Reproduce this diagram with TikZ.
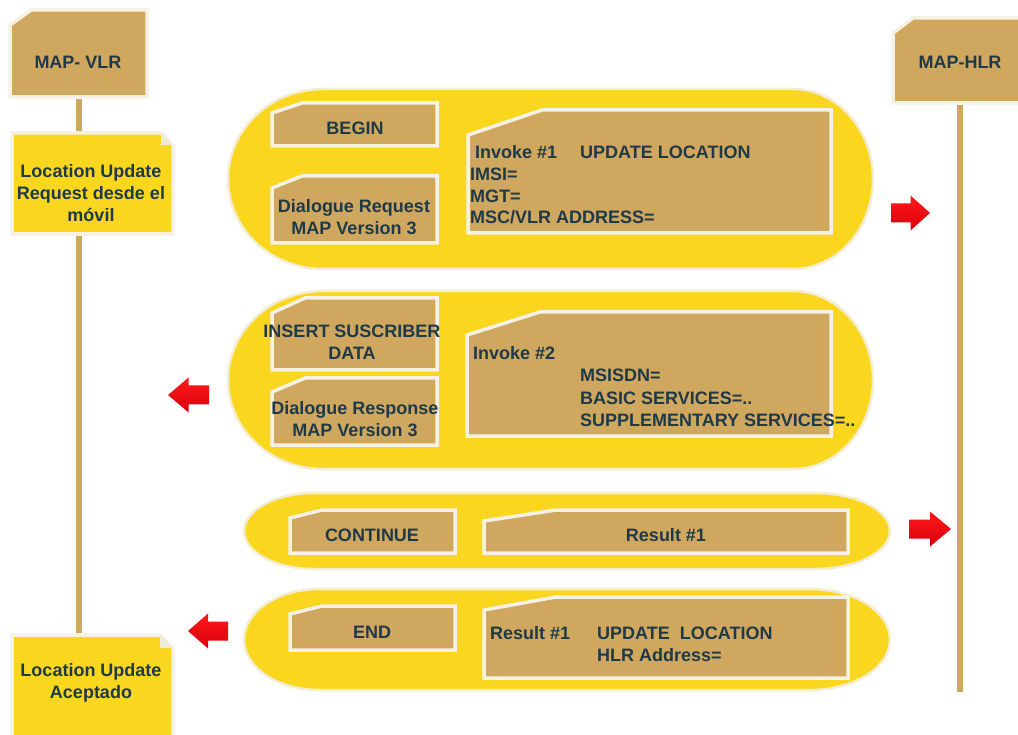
\documentclass[tikz,border=0pt]{standalone}
\usepackage{fontspec}
\setmainfont{Liberation Sans}
\definecolor{mtan}{HTML}{D0A75E}
\definecolor{myel}{HTML}{FAD71E}
\definecolor{mtxt}{HTML}{1E3A48}
\definecolor{mcream}{HTML}{F5F1E4}
\definecolor{mcapb}{HTML}{F3EDD2}
\definecolor{mfold}{HTML}{EFEAD8}
\definecolor{mred}{HTML}{D9000C}
\definecolor{mredl}{HTML}{FF1A1A}
\tikzset{
  boxfill/.style={fill=mtan, draw=mcream, line width=3.5pt, line join=miter},
  yelfill/.style={fill=myel, draw=mcream, line width=3.5pt, line join=miter},
  capfill/.style={fill=myel, draw=mcapb, line width=2.5pt},
  txt/.style={font=\bfseries\fontsize{18}{22}\selectfont, text=mtxt, inner sep=0pt},
  ctxt/.style={txt, align=center},
  lw/.style={txt, anchor=base west},
  life/.style={draw=mtan, line width=6pt, shorten <=2pt, shorten >=2pt},
  arrowfill/.style={top color=mredl, bottom color=mred, draw=none}
}
\newcommand{\cutbox}[7]{%
  \path[boxfill] (#2,#5) -- ({#2},{#3+#7}) -- ({#2+#6},{#3}) -- (#4,#3) -- (#4,#5) -- cycle;
  \node[inner sep=0pt, minimum width={(#4-#2)*1pt}, minimum height={(#5-#3)*1pt}] (#1) at ({(#2+#4)/2},{(#3+#5)/2}) {};
}
\newcommand{\foldbox}[6]{%
  \path[yelfill] (#2,#3) -- ({#4-#6},#3) -- (#4,{#3+#6}) -- (#4,#5) -- (#2,#5) -- cycle;
  \fill[mfold] ({#4-#6},#3) -- ({#4-#6},{#3+#6}) -- (#4,{#3+#6}) -- cycle;
  \node[inner sep=0pt, minimum width={(#4-#2)*1pt}, minimum height={(#5-#3)*1pt}] (#1) at ({(#2+#4)/2},{(#3+#5)/2}) {};
}
\newcommand{\capsule}[6]{%
  \path[capfill] ({#1+#5},#2) -- ({#3-#6},#2)
    .. controls ({#3-0.4477*#6},#2) and (#3,{0.77615*#2+0.22385*#4}) .. (#3,{(#2+#4)/2})
    .. controls (#3,{0.22385*#2+0.77615*#4}) and ({#3-0.4477*#6},#4) .. ({#3-#6},#4)
    -- ({#1+#5},#4)
    .. controls ({#1+0.4477*#5},#4) and (#1,{0.22385*#2+0.77615*#4}) .. (#1,{(#2+#4)/2})
    .. controls (#1,{0.77615*#2+0.22385*#4}) and ({#1+0.4477*#5},#2) .. cycle;
}
\newcommand{\redarrow}[3]{%
  \path[arrowfill] (#1,{#3-9.5}) -- ({#2-0.5*(#2-#1)},{#3-9.5}) -- ({#2-0.5*(#2-#1)},{#3-17.5})
    -- (#2,#3) -- ({#2-0.5*(#2-#1)},{#3+17.5}) -- ({#2-0.5*(#2-#1)},{#3+9.5}) -- (#1,{#3+9.5}) -- cycle;
}
\begin{document}
\begin{tikzpicture}[x=1pt,y=-1pt]
\fill[white] (0,0) rectangle (1018,735);
\useasboundingbox (0,0) rectangle (1018,735);

% capsules
\capsule{228}{89}{873}{269}{95}{80}
\capsule{228}{291}{873}{469}{95}{80}
\capsule{244}{493}{890}{569}{70}{75}
\capsule{244}{589}{890}{690}{75}{80}

% left column
\cutbox{vlr}{10}{10}{147}{97}{21}{15}
\node[txt] (vlrT) at (78,62) {MAP- VLR};
\foldbox{lur}{12}{133}{173}{234}{12}
\node[ctxt] (lurT) at (91,193) {Location Update\\Request desde el\\móvil};
\foldbox{lua}{12}{635}{173}{745}{13}
\node[ctxt] (luaT) at (91,683) {Location Update\\Aceptado};
\draw[life] (vlr.south) -- (vlr.south |- lur.north);
\draw[life] (vlr.south |- lur.south) -- (vlr.south |- lua.north);

% right column
\cutbox{hlr}{893}{18}{1030}{103}{20}{15}
\node[txt] (hlrT) at (960,62) {MAP-HLR};
\coordinate (hlrEnd) at (960,692);
\draw[life, shorten >=0pt] (hlr.south -| hlrEnd) -- (hlrEnd);

% capsule 1
\cutbox{begin}{272}{103}{437}{146}{30}{10}
\node[txt] (beginT) at (355,128) {BEGIN};
\cutbox{dreq}{272}{176}{437}{243}{30}{12}
\node[ctxt] (dreqT) at (354,217) {Dialogue Request\\MAP Version 3};
\cutbox{inv1}{468}{110}{831}{233}{74}{25}
\node[lw] (i1a) at (475,158.5) {Invoke \#1};
\node[lw] (i1b) at (580,158.5) {UPDATE LOCATION};
\node[lw] (i1c) at (470,180.5) {IMSI=};
\node[lw] (i1d) at (470,202.5) {MGT=};
\node[lw] (i1e) at (470,224) {MSC/VLR ADDRESS=};
\redarrow{891}{930}{213}

% capsule 2
\cutbox{isd}{272}{298}{437}{370}{33}{15}
\node[ctxt] (isdT) at (352,342.5) {INSERT SUSCRIBER\\DATA};
\cutbox{dres}{272}{378}{437}{445}{33}{14}
\node[ctxt] (dresT) at (355,419) {Dialogue Response\\MAP Version 3};
\cutbox{inv2}{467}{312}{831}{436}{73}{23}
\node[lw] (i2a) at (473,359.5) {Invoke \#2};
\node[lw] (i2b) at (580,382) {MSISDN=};
\node[lw] (i2c) at (580,404) {BASIC SERVICES=..};
\node[lw] (i2d) at (580,426.5) {SUPPLEMENTARY SERVICES=..};
\redarrow{209}{168}{395}

% capsule 3
\cutbox{cont}{290}{510}{455}{553}{32}{8}
\node[txt] (contT) at (372,535) {CONTINUE};
\cutbox{res1}{484}{510}{848}{553}{72}{11}
\node[txt] (res1T) at (666,535) {Result \#1};
\redarrow{909}{951}{529}

% capsule 4
\cutbox{endb}{290}{606}{455}{650}{32}{8}
\node[txt] (endT) at (372,632) {END};
\cutbox{res2}{484}{597}{848}{678}{72}{13}
\node[lw] (r2a) at (490,639.5) {Result \#1};
\node[lw] (r2b) at (597,639.5) {UPDATE\ \ LOCATION};
\node[lw] (r2c) at (597,661.5) {HLR Address=};
\redarrow{228}{188}{631}
\end{tikzpicture}
\end{document}
